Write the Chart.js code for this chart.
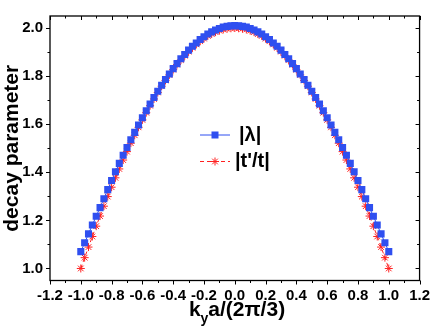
<!DOCTYPE html>
<html>
<head>
<meta charset="utf-8">
<script src="https://cdn.jsdelivr.net/npm/chart.js@4"></script>
<style>
  html, body { margin: 0; padding: 0; background: #fff; }
  canvas { display: block; }
</style>
</head>
<body>
<canvas id="chart" width="436" height="330"></canvas>
<script>
// k_y a / (2π/3)
const kValues = [
  -1, -0.975, -0.95, -0.925, -0.9, -0.875, -0.85, -0.825, -0.8, -0.775,
  -0.75, -0.725, -0.7, -0.675, -0.65, -0.625, -0.6, -0.575, -0.55, -0.525,
  -0.5, -0.475, -0.45, -0.425, -0.4, -0.375, -0.35, -0.325, -0.3, -0.275,
  -0.25, -0.225, -0.2, -0.175, -0.15, -0.125, -0.1, -0.075, -0.05, -0.025,
  0,
  0.025, 0.05, 0.075, 0.1, 0.125, 0.15, 0.175, 0.2, 0.225, 0.25,
  0.275, 0.3, 0.325, 0.35, 0.375, 0.4, 0.425, 0.45, 0.475, 0.5,
  0.525, 0.55, 0.575, 0.6, 0.625, 0.65, 0.675, 0.7, 0.725, 0.75,
  0.775, 0.8, 0.825, 0.85, 0.875, 0.9, 0.925, 0.95, 0.975, 1
];

// |λ|
const lambdaValues = [
  1.070, 1.107, 1.144, 1.181, 1.217, 1.253, 1.290, 1.328, 1.366, 1.402,
  1.437, 1.471, 1.503, 1.535, 1.566, 1.597, 1.627, 1.656, 1.684, 1.711,
  1.737, 1.762, 1.786, 1.809, 1.831, 1.852, 1.872, 1.890, 1.908, 1.924,
  1.938, 1.952, 1.964, 1.975, 1.984, 1.992, 1.998, 2.004, 2.007, 2.009,
  2.010,
  2.009, 2.007, 2.004, 1.998, 1.992, 1.984, 1.975, 1.964, 1.952, 1.938,
  1.924, 1.908, 1.890, 1.872, 1.852, 1.831, 1.809, 1.786, 1.762, 1.737,
  1.711, 1.684, 1.656, 1.627, 1.597, 1.566, 1.535, 1.503, 1.471, 1.437,
  1.402, 1.366, 1.328, 1.290, 1.253, 1.217, 1.181, 1.144, 1.107, 1.070
];

// |t'/t|
const ratioValues = [
  1.000, 1.045, 1.089, 1.133, 1.176, 1.218, 1.259, 1.299, 1.338, 1.377,
  1.414, 1.451, 1.486, 1.521, 1.554, 1.587, 1.618, 1.648, 1.677, 1.705,
  1.732, 1.758, 1.782, 1.805, 1.827, 1.848, 1.867, 1.885, 1.902, 1.918,
  1.932, 1.945, 1.956, 1.967, 1.975, 1.983, 1.989, 1.994, 1.997, 1.999,
  2.000,
  1.999, 1.997, 1.994, 1.989, 1.983, 1.975, 1.967, 1.956, 1.945, 1.932,
  1.918, 1.902, 1.885, 1.867, 1.848, 1.827, 1.805, 1.782, 1.758, 1.732,
  1.705, 1.677, 1.648, 1.618, 1.587, 1.554, 1.521, 1.486, 1.451, 1.414,
  1.377, 1.338, 1.299, 1.259, 1.218, 1.176, 1.133, 1.089, 1.045, 1.000
];

const xTicks = [-1.2, -1.0, -0.8, -0.6, -0.4, -0.2, 0.0, 0.2, 0.4, 0.6, 0.8, 1.0, 1.2];
const yTicks = [1.0, 1.2, 1.4, 1.6, 1.8, 2.0];

const BLUE = '#2f4ff0';
const RED = '#ff2020';
const FONT = '"Liberation Sans", Arial, sans-serif';

const toPoints = ys => kValues.map((k, i) => ({ x: k, y: ys[i] }));
const fmt1 = v => (Math.abs(v) < 1e-9 ? 0 : v).toFixed(1);

// frame, Origin-style ticks, axis titles, legend
const framePlugin = {
  id: 'frame',
  afterDraw(chart) {
    const { ctx, chartArea: a, scales } = chart;
    const sx = scales.x, sy = scales.y;
    ctx.save();
    ctx.strokeStyle = '#000';
    ctx.lineWidth = 1.3;
    ctx.strokeRect(a.left, a.top, a.right - a.left, a.bottom - a.top);

    ctx.lineWidth = 1;
    ctx.beginPath();
    // x ticks every 0.1: outward on bottom, inward on top
    for (let i = -12; i <= 12; i++) {
      const px = Math.round(sx.getPixelForValue(i / 10)) + 0.5;
      const len = i % 2 === 0 ? 4 : 2.5;
      ctx.moveTo(px, a.bottom); ctx.lineTo(px, a.bottom + len);
      ctx.moveTo(px, a.top); ctx.lineTo(px, a.top + len);
    }
    // y ticks every 0.1: outward on left, inward on right
    for (let i = 10; i <= 20; i++) {
      const py = Math.round(sy.getPixelForValue(i / 10)) + 0.5;
      const len = i % 2 === 0 ? 4 : 2.5;
      ctx.moveTo(a.left, py); ctx.lineTo(a.left - len, py);
      ctx.moveTo(a.right, py); ctx.lineTo(a.right - len, py);
    }
    ctx.stroke();

    // x title: k_y a/(2π/3)
    ctx.fillStyle = '#000';
    ctx.textBaseline = 'alphabetic';
    const big = 'bold 21px ' + FONT, small = 'bold 14px ' + FONT;
    ctx.font = big; const wk = ctx.measureText('k').width;
    ctx.font = small; const wy = ctx.measureText('y').width;
    ctx.font = big; const wr = ctx.measureText('a/(2\u03c0/3)').width;
    let tx = 237 - (wk + wy + wr) / 2;
    ctx.textAlign = 'left';
    ctx.font = big; ctx.fillText('k', tx, 316); tx += wk;
    ctx.font = small; ctx.fillText('y', tx, 323); tx += wy;
    ctx.font = big; ctx.fillText('a/(2\u03c0/3)', tx, 316);

    // y title
    ctx.save();
    ctx.translate(18, (a.top + a.bottom) / 2);
    ctx.rotate(-Math.PI / 2);
    ctx.textAlign = 'center';
    ctx.font = 'bold 21px ' + FONT;
    ctx.fillText('decay parameter', 0, 0);
    ctx.restore();

    // legend
    ctx.lineWidth = 1;
    ctx.strokeStyle = BLUE;
    ctx.beginPath(); ctx.moveTo(200, 135); ctx.lineTo(230, 135); ctx.stroke();
    ctx.fillStyle = BLUE;
    ctx.fillRect(211.5, 131.5, 7, 7);
    ctx.strokeStyle = RED;
    ctx.setLineDash([4, 3]);
    ctx.beginPath(); ctx.moveTo(200, 161.5); ctx.lineTo(230, 161.5); ctx.stroke();
    ctx.setLineDash([]);
    ctx.beginPath();
    const r = 4, cx = 215, cy = 161.5;
    for (let j = 0; j < 4; j++) {
      const t = j * Math.PI / 4;
      ctx.moveTo(cx - r * Math.cos(t), cy - r * Math.sin(t));
      ctx.lineTo(cx + r * Math.cos(t), cy + r * Math.sin(t));
    }
    ctx.stroke();
    ctx.fillStyle = '#000';
    ctx.font = 'bold 20px ' + FONT;
    ctx.textAlign = 'left';
    ctx.textBaseline = 'middle';
    ctx.fillText('|\u03bb|', 239, 135);
    ctx.fillText("|t'/t|", 235, 161);
    ctx.restore();
  }
};

new Chart(document.getElementById('chart'), {
  type: 'line',
  data: {
    datasets: [
      {
        label: '|\u03bb|',
        data: toPoints(lambdaValues),
        borderColor: BLUE,
        backgroundColor: BLUE,
        borderWidth: 1,
        pointStyle: 'rect',
        pointRadius: 5,
        pointBorderWidth: 0,
        tension: 0
      },
      {
        label: "|t'/t|",
        data: toPoints(ratioValues),
        borderColor: RED,
        backgroundColor: RED,
        borderWidth: 1,
        borderDash: [4, 3],
        pointStyle: 'star',
        pointRadius: 4,
        pointBorderWidth: 1,
        tension: 0
      }
    ]
  },
  options: {
    responsive: false,
    animation: false,
    events: [],
    layout: { padding: { top: 3, right: 13, left: 0, bottom: 0 } },
    plugins: { legend: { display: false }, tooltip: { enabled: false } },
    scales: {
      x: {
        type: 'linear',
        min: -1.2,
        max: 1.2,
        afterBuildTicks: s => { s.ticks = xTicks.map(v => ({ value: v })); },
        afterFit: s => { s.height = 49.5; },
        grid: { display: false, drawTicks: false },
        border: { display: false },
        ticks: {
          padding: 6,
          color: '#000',
          maxRotation: 0,
          autoSkip: false,
          font: { family: FONT, size: 15, weight: 'bold' },
          callback: v => fmt1(v)
        }
      },
      y: {
        type: 'linear',
        min: 0.95,
        max: 2.05,
        afterBuildTicks: s => { s.ticks = yTicks.map(v => ({ value: v })); },
        afterFit: s => { s.width = 50; },
        grid: { display: false, drawTicks: false },
        border: { display: false },
        ticks: {
          padding: 7,
          color: '#000',
          font: { family: FONT, size: 15, weight: 'bold' },
          callback: v => fmt1(v)
        }
      }
    }
  },
  plugins: [framePlugin]
});
</script>
</body>
</html>
